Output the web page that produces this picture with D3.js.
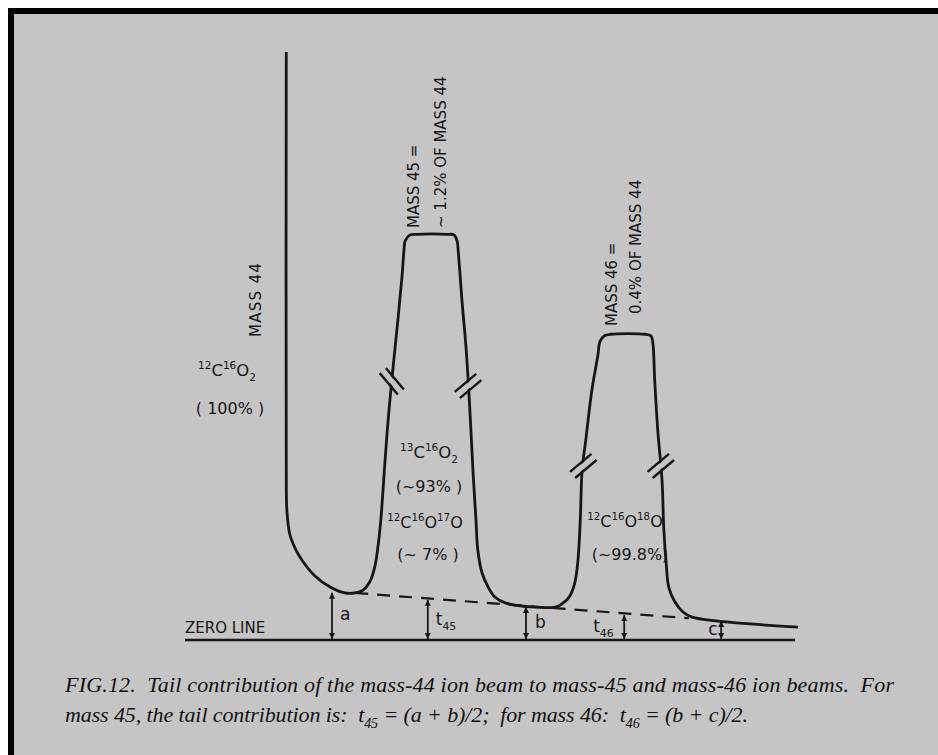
<!DOCTYPE html>
<html>
<head>
<meta charset="utf-8">
<script src="https://cdn.jsdelivr.net/npm/d3@7"></script>
<style>
  html, body { margin: 0; padding: 0; background: #fff; }
  svg { display: block; }
  .lettering { font-family: 'DejaVu Sans', sans-serif; fill: #161616; }
  .caption { font-family: 'Liberation Serif', 'Times New Roman', serif; font-style: italic; fill: #111; white-space: pre; }
</style>
</head>
<body>
<div class="tail_chart"></div>
<script>
// ion current trace (scan position, signal), arbitrary units 0..100
const traceX = [16.6, 16.6, 16.7, 17.2, 18.2, 19.3, 21.3, 23.8, 26.2, 27.9, 29.2, 30.3, 31.1, 31.6, 32.1, 32.8,
  33.3, 33.9, 34.9, 35.6, 35.9, 36.1, 36.9, 37.9, 43.1, 44.1, 44.6, 44.8, 45.4, 46.1, 46.7, 47.2, 47.7, 48.0,
  48.7, 49.7, 50.8, 52.5, 60.7, 62.0, 63.1, 63.9, 64.4, 64.8, 65.1, 65.7, 66.7, 67.7, 68.0, 68.7, 69.8, 75.4,
  76.4, 76.7, 77.0, 77.5, 78.2, 78.5, 78.9, 79.3, 80.3, 81.6, 83.1, 100.5]
const traceY = [100.0, 28.9, 22.1, 17.9, 15.3, 13.4, 10.9, 9.0, 8.0, 8.0, 8.5, 9.9, 12.4, 15.6, 20.4, 30.6,
  37.4, 44.2, 54.4, 62.1, 66.3, 67.9, 68.9, 69.0, 69.0, 68.9, 67.9, 66.0, 57.8, 49.3, 39.1, 28.9, 20.4, 15.3,
  11.4, 9.0, 7.3, 6.3, 5.6, 6.3, 7.5, 9.7, 13.3, 20.4, 28.9, 34.0, 42.5, 48.5, 50.7, 51.7, 52.0, 52.0,
  51.7, 50.5, 44.2, 35.7, 27.2, 18.7, 12.8, 9.0, 6.5, 4.8, 3.9, 2.2]

// interpolated tail of the mass-44 beam (dashed)
const tailX = [27.9, 82.6]
const tailY = [8.0, 3.7]

// tail heights measured from the zero line
const arrowNames = ['a', 't45', 'b', 't46', 'c']
const arrowX = [24.1, 39.8, 55.9, 72.0, 87.9]
const arrowTop = [8.2, 7.0, 5.8, 4.4, 3.4]

// scale breaks on the peak flanks
const breakX = [33.9, 46.4, 65.3, 78.0]
const breakY = [44.0, 43.2, 29.6, 29.6]
const breakDir = ['\\', '/', '/', '/']

const peakTitles = [
  ['MASS 45 =', '~ 1.2% OF MASS 44'],
  ['MASS 46 =', '0.4% OF MASS 44']
]
const f44 = [['12', 'sup'], ['C'], ['16', 'sup'], ['O'], ['2', 'sub']]
const f45a = [['13', 'sup'], ['C'], ['16', 'sup'], ['O'], ['2', 'sub']]
const f45b = [['12', 'sup'], ['C'], ['16', 'sup'], ['O'], ['17', 'sup'], ['O']]
const f46 = [['12', 'sup'], ['C'], ['16', 'sup'], ['O'], ['18', 'sup'], ['O']]
const shares = ['( 100% )', '(~93% )', '(~ 7% )', '(~99.8%)']

const captionLines = [
  [['FIG.12.  Tail contribution of the mass-44 ion beam to mass-45 and mass-46 ion beams.  For']],
  [['mass 45, the tail contribution is:  t'], ['45', 'sub'], [' = (a + b)/2;  for mass 46:  t'], ['46', 'sub'], [' = (b + c)/2.']]
]

const ink = '#161616'
const paper = '#c5c5c5'

// text with small raised / lowered parts
function richText (sel, segs, size) {
  let shift = 0
  segs.forEach(([t, k]) => {
    const target = k === 'sup' ? -0.42 * size : k === 'sub' ? 0.28 * size : 0
    sel.append('tspan')
      .attr('dy', target - shift)
      .attr('font-size', k ? size * 0.64 : size)
      .text(t)
    shift = target
  })
  return sel
}

function drawChart () {
  const width = 938
  const height = 755
  const svg = d3.select('.tail_chart').append('svg')
    .attr('width', width)
    .attr('height', height)

  // scanned page with the black frame on top and left
  svg.append('rect').attr('x', 8).attr('y', 8).attr('width', width - 8).attr('height', height - 8).attr('fill', '#000')
  svg.append('rect').attr('x', 14).attr('y', 14).attr('width', width - 14).attr('height', height - 14).attr('fill', paper)

  const x = d3.scaleLinear().domain([0, 100]).range([185, 795])
  const y = d3.scaleLinear().domain([0, 100]).range([640, 52])

  const defs = svg.append('defs')
  defs.append('marker')
    .attr('id', 'head')
    .attr('viewBox', '0 0 10 10')
    .attr('refX', 10)
    .attr('refY', 5)
    .attr('markerUnits', 'userSpaceOnUse')
    .attr('markerWidth', 6)
    .attr('markerHeight', 7)
    .attr('orient', 'auto-start-reverse')
    .append('path')
    .attr('d', 'M0,0 L10,5 L0,10 Z')
    .attr('fill', ink)

  // zero line
  svg.append('line')
    .attr('x1', x(0)).attr('x2', x(100))
    .attr('y1', y(0)).attr('y2', y(0))
    .attr('stroke', ink)
    .attr('stroke-width', 2.6)

  svg.append('text')
    .attr('class', 'lettering')
    .attr('x', x(0))
    .attr('y', y(0) - 7)
    .attr('font-size', 15)
    .text('ZERO LINE')

  // dashed tail
  const line = d3.line().x(d => x(d[0])).y(d => y(d[1]))
  svg.append('path')
    .attr('d', line(d3.zip(tailX, tailY)))
    .attr('fill', 'none')
    .attr('stroke', ink)
    .attr('stroke-width', 2.2)
    .attr('stroke-dasharray', '13,9')

  // the trace
  const trace = d3.line().x(d => x(d[0])).y(d => y(d[1])).curve(d3.curveCatmullRom.alpha(0.5))
  svg.append('path')
    .attr('d', trace(d3.zip(traceX, traceY)))
    .attr('fill', 'none')
    .attr('stroke', ink)
    .attr('stroke-width', 2.8)
    .attr('stroke-linejoin', 'round')

  // break marks: gap painted with paper, then two slashes
  breakX.forEach((bx, i) => {
    const cx = x(bx)
    const cy = y(breakY[i])
    const ang = breakDir[i] === '/' ? -40 : 50
    const g = svg.append('g').attr('transform', 'translate(' + cx + ',' + cy + ') rotate(' + ang + ')')
    g.append('line').attr('x1', -9).attr('x2', 9).attr('y1', 0).attr('y2', 0)
      .attr('stroke', paper).attr('stroke-width', 5)
    ;[-4, 4].forEach(off => {
      g.append('line').attr('x1', -14).attr('x2', 14).attr('y1', off).attr('y2', off)
        .attr('stroke', ink).attr('stroke-width', 2.4)
    })
  })

  // tail height arrows
  arrowX.forEach((ax, i) => {
    svg.append('line')
      .attr('x1', x(ax)).attr('x2', x(ax))
      .attr('y1', y(arrowTop[i]) + 1).attr('y2', y(0) - 1)
      .attr('stroke', ink)
      .attr('stroke-width', 1.8)
      .attr('marker-start', 'url(#head)')
      .attr('marker-end', 'url(#head)')
  })
  const labelPos = [[8, -20], [8, -15], [9, -12], [-31, -8], [-13, -5]]
  arrowNames.forEach((name, i) => {
    const t = svg.append('text')
      .attr('class', 'lettering')
      .attr('x', x(arrowX[i]) + labelPos[i][0])
      .attr('y', y(0) + labelPos[i][1])
    if (name.length > 1) {
      richText(t, [[name[0]], [name.slice(1), 'sub']], 17)
    } else {
      t.attr('font-size', 17).text(name)
    }
  })

  // rotated headings
  svg.append('text')
    .attr('class', 'lettering')
    .attr('transform', 'translate(261,337) rotate(-90)')
    .attr('font-size', 15)
    .attr('letter-spacing', 1.3)
    .text('MASS 44')
  const titlePos = [[[419, 228], [446, 228]], [[617, 326], [641, 314]]]
  peakTitles.forEach((lines, p) => {
    lines.forEach((s, j) => {
      svg.append('text')
        .attr('class', 'lettering')
        .attr('transform', 'translate(' + titlePos[p][j][0] + ',' + titlePos[p][j][1] + ') rotate(-90)')
        .attr('font-size', 15)
        .text(s)
    })
  })

  // species and abundances
  const block = (segs, cx, by, size) => {
    const t = svg.append('text').attr('class', 'lettering').attr('x', cx).attr('y', by).attr('text-anchor', 'middle')
    richText(t, segs, size)
  }
  block(f44, 227, 376, 16.5)
  block([[shares[0]]], 230, 414, 16)
  block(f45a, 429, 458, 16.5)
  block([[shares[1]]], 429, 492, 16)
  block(f45b, 425, 528, 16)
  block([[shares[2]]], 428, 560, 16)
  block(f46, 625, 527, 16)
  block([[shares[3]]], 630, 560, 16)

  // figure caption
  const capY = [692, 722]
  const capLen = [829, 683]
  captionLines.forEach((segs, i) => {
    const t = svg.append('text')
      .attr('class', 'caption')
      .attr('x', 65)
      .attr('y', capY[i])
      .attr('textLength', capLen[i])
      .attr('lengthAdjust', 'spacing')
    richText(t, segs, 22)
  })
}

drawChart()
</script>
</body>
</html>
